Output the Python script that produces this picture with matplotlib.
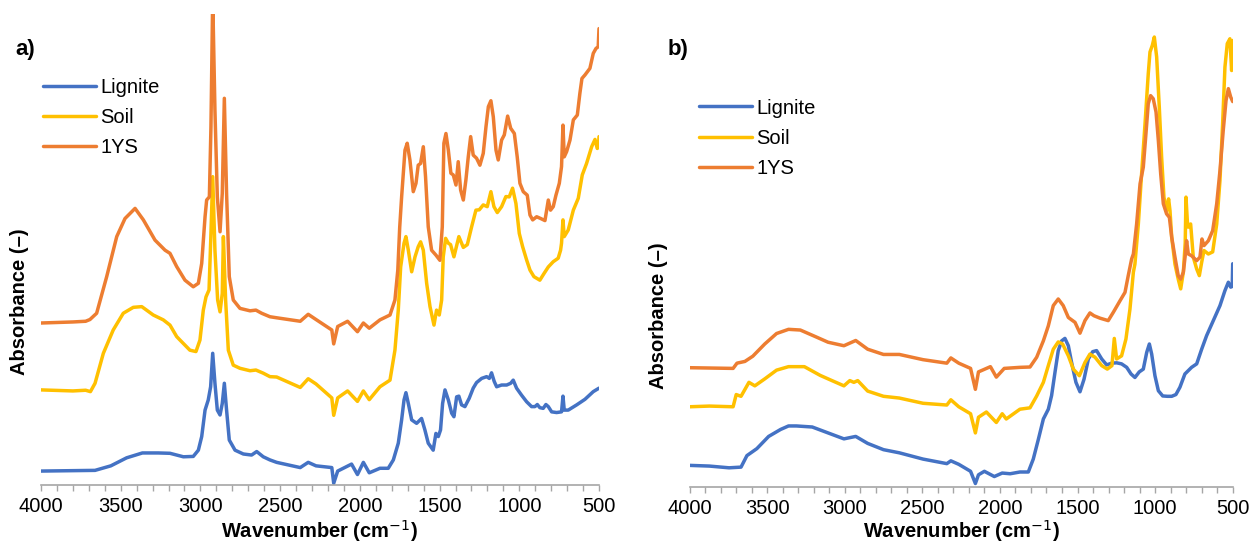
import matplotlib
matplotlib.use("Agg")
import matplotlib.pyplot as plt
from matplotlib.ticker import MultipleLocator

plt.rcParams['font.family'] = ['Liberation Sans', 'DejaVu Sans']

# (wavenumber cm-1, absorbance a.u.) read from the reference
# ---------------- Panel a) ----------------
a_lignite = [(4000, 0.040), (3661, 0.042), (3562, 0.055), (3463, 0.078), (3364, 0.092), (3265, 0.092),
             (3191, 0.091), (3107, 0.081), (3045, 0.082), (3013, 0.100), (2992, 0.139), (2971, 0.215),
             (2951, 0.244), (2936, 0.282), (2923, 0.378), (2909, 0.292), (2894, 0.215), (2877, 0.201),
             (2863, 0.234), (2850, 0.292), (2836, 0.215), (2819, 0.129), (2783, 0.100), (2731, 0.089),
             (2679, 0.086), (2647, 0.096), (2606, 0.081), (2564, 0.072), (2522, 0.065), (2374, 0.050),
             (2324, 0.065), (2275, 0.055), (2176, 0.050), (2164, 0.005), (2139, 0.040), (2052, 0.060),
             (2015, 0.030), (1978, 0.065), (1941, 0.035), (1874, 0.048), (1822, 0.048), (1790, 0.072),
             (1759, 0.120), (1738, 0.187), (1723, 0.244), (1711, 0.265), (1696, 0.234), (1675, 0.187),
             (1644, 0.177), (1613, 0.191), (1592, 0.158), (1571, 0.120), (1540, 0.100), (1523, 0.148),
             (1508, 0.139), (1494, 0.158), (1481, 0.234), (1466, 0.273), (1445, 0.244), (1424, 0.206),
             (1410, 0.196), (1393, 0.253), (1379, 0.255), (1362, 0.230), (1341, 0.225), (1314, 0.249),
             (1289, 0.278), (1268, 0.294), (1236, 0.306), (1205, 0.311), (1188, 0.306), (1174, 0.322),
             (1157, 0.297), (1142, 0.282), (1111, 0.287), (1079, 0.287), (1054, 0.292), (1038, 0.301),
             (1017, 0.278), (986, 0.258), (954, 0.239), (923, 0.225), (902, 0.225), (887, 0.231),
             (871, 0.222), (850, 0.220), (833, 0.231), (818, 0.225), (797, 0.210), (766, 0.208),
             (735, 0.210), (726, 0.255), (718, 0.215), (693, 0.215), (640, 0.230), (588, 0.246),
             (536, 0.268), (500, 0.278)]

a_soil = [(4000, 0.273), (3800, 0.270), (3720, 0.272), (3690, 0.268), (3661, 0.292), (3609, 0.378),
          (3547, 0.445), (3484, 0.493), (3421, 0.510), (3368, 0.512), (3296, 0.488), (3233, 0.474),
          (3191, 0.459), (3149, 0.426), (3128, 0.416), (3066, 0.387), (3028, 0.383), (3003, 0.416),
          (2982, 0.502), (2965, 0.540), (2946, 0.560), (2936, 0.694), (2923, 0.885), (2909, 0.674),
          (2892, 0.531), (2877, 0.497), (2863, 0.550), (2856, 0.713), (2842, 0.531), (2825, 0.387),
          (2794, 0.344), (2752, 0.335), (2689, 0.328), (2652, 0.330), (2606, 0.321), (2564, 0.311),
          (2522, 0.310), (2374, 0.280), (2324, 0.305), (2275, 0.290), (2176, 0.250), (2164, 0.200),
          (2139, 0.250), (2077, 0.270), (2015, 0.240), (1978, 0.270), (1941, 0.245), (1874, 0.282),
          (1811, 0.301), (1780, 0.387), (1759, 0.502), (1744, 0.626), (1723, 0.694), (1711, 0.713),
          (1696, 0.674), (1675, 0.612), (1654, 0.655), (1634, 0.684), (1619, 0.698), (1602, 0.674),
          (1581, 0.579), (1560, 0.512), (1535, 0.459), (1519, 0.502), (1502, 0.488), (1487, 0.531),
          (1477, 0.655), (1462, 0.708), (1445, 0.694), (1431, 0.690), (1410, 0.655), (1379, 0.713),
          (1351, 0.682), (1326, 0.690), (1299, 0.741), (1272, 0.789), (1251, 0.790), (1226, 0.804),
          (1201, 0.799), (1178, 0.842), (1159, 0.799), (1138, 0.782), (1111, 0.799), (1084, 0.828),
          (1063, 0.827), (1042, 0.852), (1021, 0.808), (1000, 0.722), (979, 0.684), (954, 0.646),
          (933, 0.617), (908, 0.598), (871, 0.588), (845, 0.607), (818, 0.626), (787, 0.641),
          (756, 0.651), (741, 0.674), (735, 0.694), (726, 0.761), (718, 0.713), (693, 0.732),
          (661, 0.789), (630, 0.823), (605, 0.890), (578, 0.923), (546, 0.971), (525, 0.992),
          (511, 0.966), (503, 0.970), (500, 1.000)]

a_1ys = [(4000, 0.465), (3800, 0.468), (3720, 0.470), (3693, 0.475), (3651, 0.493), (3588, 0.598),
         (3525, 0.713), (3473, 0.765), (3410, 0.794), (3358, 0.761), (3285, 0.703), (3222, 0.674),
         (3191, 0.665), (3149, 0.627), (3097, 0.588), (3045, 0.569), (3013, 0.579), (2992, 0.636),
         (2971, 0.770), (2961, 0.818), (2944, 0.827), (2934, 1.028), (2923, 1.400), (2909, 1.076),
         (2894, 0.827), (2877, 0.727), (2863, 0.837), (2850, 1.110), (2836, 0.837), (2819, 0.598),
         (2794, 0.531), (2752, 0.507), (2689, 0.500), (2652, 0.502), (2616, 0.493), (2564, 0.483),
         (2522, 0.480), (2374, 0.470), (2324, 0.490), (2275, 0.475), (2176, 0.445), (2164, 0.405),
         (2139, 0.455), (2077, 0.470), (2015, 0.440), (1978, 0.465), (1941, 0.450), (1874, 0.474),
         (1811, 0.488), (1780, 0.531), (1762, 0.617), (1750, 0.740), (1738, 0.827), (1717, 0.961),
         (1703, 0.981), (1686, 0.933), (1665, 0.842), (1648, 0.866), (1634, 0.918), (1619, 0.923),
         (1602, 0.971), (1588, 0.885), (1571, 0.741), (1550, 0.674), (1523, 0.660), (1498, 0.645),
         (1483, 0.741), (1473, 0.981), (1460, 1.009), (1445, 0.961), (1429, 0.895), (1414, 0.890),
         (1397, 0.861), (1383, 0.928), (1368, 0.847), (1351, 0.818), (1335, 0.875), (1320, 0.942),
         (1305, 1.000), (1289, 0.947), (1268, 0.938), (1247, 0.918), (1226, 0.952), (1209, 1.028),
         (1194, 1.086), (1178, 1.103), (1163, 1.057), (1146, 0.961), (1132, 0.933), (1111, 0.990),
         (1094, 1.005), (1073, 1.059), (1054, 1.024), (1031, 1.009), (1013, 0.942), (996, 0.866),
         (975, 0.842), (950, 0.832), (933, 0.775), (916, 0.761), (891, 0.770), (866, 0.765),
         (839, 0.759), (818, 0.818), (804, 0.789), (787, 0.799), (770, 0.832), (749, 0.866),
         (735, 0.914), (726, 1.033), (718, 0.942), (703, 0.957), (682, 0.990), (661, 1.048),
         (636, 1.062), (620, 1.124), (607, 1.167), (588, 1.177), (557, 1.196), (536, 1.239),
         (519, 1.253), (505, 1.258), (500, 1.310)]

# ---------------- Panel b) ----------------
b_lignite = [(4000, 0.062), (3872, 0.060), (3745, 0.055), (3668, 0.057), (3630, 0.090), (3566, 0.110),
             (3490, 0.145), (3413, 0.165), (3362, 0.175), (3311, 0.175), (3209, 0.172), (3107, 0.155),
             (3005, 0.138), (2929, 0.145), (2852, 0.125), (2750, 0.107), (2648, 0.098), (2495, 0.080),
             (2342, 0.067), (2316, 0.075), (2265, 0.065), (2189, 0.045), (2158, 0.010), (2138, 0.035),
             (2100, 0.045), (2036, 0.030), (1985, 0.040), (1934, 0.038), (1871, 0.043), (1817, 0.043),
             (1785, 0.080), (1752, 0.137), (1720, 0.195), (1688, 0.223), (1667, 0.262), (1645, 0.329),
             (1624, 0.391), (1602, 0.419), (1581, 0.426), (1559, 0.405), (1538, 0.357), (1510, 0.300),
             (1484, 0.273), (1458, 0.309), (1430, 0.367), (1402, 0.388), (1377, 0.391), (1344, 0.367),
             (1312, 0.350), (1280, 0.355), (1248, 0.356), (1216, 0.353), (1183, 0.343), (1155, 0.324),
             (1130, 0.314), (1102, 0.330), (1076, 0.338), (1054, 0.386), (1037, 0.410), (1022, 0.381),
             (1001, 0.319), (979, 0.276), (951, 0.261), (921, 0.260), (893, 0.260), (866, 0.265),
             (840, 0.286), (808, 0.324), (765, 0.343), (732, 0.353), (700, 0.395), (668, 0.434),
             (625, 0.477), (582, 0.520), (550, 0.563), (528, 0.587), (513, 0.573), (503, 0.575),
             (500, 0.640)]

b_soil = [(4000, 0.230), (3872, 0.232), (3719, 0.230), (3699, 0.265), (3668, 0.260), (3617, 0.300),
          (3579, 0.290), (3515, 0.310), (3439, 0.335), (3362, 0.345), (3260, 0.345), (3158, 0.320),
          (3082, 0.305), (3005, 0.290), (2967, 0.305), (2941, 0.300), (2916, 0.305), (2852, 0.275),
          (2750, 0.260), (2648, 0.255), (2495, 0.240), (2342, 0.235), (2316, 0.250), (2265, 0.230),
          (2189, 0.210), (2158, 0.155), (2138, 0.200), (2087, 0.215), (2023, 0.185), (1985, 0.210),
          (1959, 0.195), (1871, 0.223), (1806, 0.227), (1763, 0.261), (1720, 0.300), (1688, 0.348),
          (1656, 0.395), (1624, 0.416), (1596, 0.410), (1559, 0.376), (1527, 0.338), (1488, 0.319),
          (1452, 0.357), (1420, 0.381), (1387, 0.372), (1344, 0.348), (1308, 0.338), (1278, 0.348),
          (1263, 0.426), (1248, 0.367), (1216, 0.376), (1188, 0.424), (1162, 0.510), (1140, 0.616),
          (1130, 0.639), (1108, 0.754), (1087, 0.898), (1065, 1.041), (1044, 1.185), (1033, 1.247),
          (1018, 1.266), (1005, 1.290), (990, 1.233), (973, 1.089), (958, 0.946), (943, 0.831),
          (926, 0.792), (913, 0.826), (904, 0.792), (893, 0.716), (872, 0.639), (851, 0.596),
          (835, 0.568), (818, 0.616), (806, 0.700), (801, 0.831), (792, 0.760), (786, 0.745),
          (771, 0.754), (754, 0.659), (732, 0.625), (715, 0.606), (700, 0.644), (685, 0.678),
          (657, 0.668), (629, 0.674), (603, 0.754), (582, 0.879), (565, 1.041), (550, 1.204),
          (535, 1.271), (518, 1.285), (507, 1.194), (500, 1.280)]

b_1ys = [(4000, 0.342), (3719, 0.340), (3694, 0.355), (3643, 0.360), (3592, 0.375), (3515, 0.410),
         (3439, 0.440), (3362, 0.452), (3286, 0.450), (3183, 0.430), (3107, 0.415), (3005, 0.405),
         (2929, 0.420), (2852, 0.395), (2750, 0.380), (2648, 0.380), (2495, 0.365), (2342, 0.355),
         (2316, 0.370), (2265, 0.355), (2189, 0.340), (2158, 0.280), (2138, 0.330), (2061, 0.345),
         (2023, 0.315), (1972, 0.340), (1871, 0.343), (1806, 0.344), (1763, 0.372), (1720, 0.419),
         (1688, 0.462), (1656, 0.520), (1624, 0.539), (1592, 0.520), (1559, 0.486), (1516, 0.472),
         (1484, 0.441), (1452, 0.477), (1420, 0.499), (1394, 0.491), (1355, 0.484), (1302, 0.477),
         (1269, 0.501), (1226, 0.534), (1194, 0.558), (1173, 0.606), (1151, 0.654), (1140, 0.668),
         (1119, 0.754), (1097, 0.869), (1076, 0.917), (1059, 1.013), (1044, 1.099), (1029, 1.122),
         (1012, 1.113), (994, 1.075), (979, 0.993), (964, 0.898), (947, 0.812), (926, 0.783),
         (908, 0.773), (893, 0.716), (872, 0.659), (851, 0.606), (835, 0.596), (818, 0.616),
         (807, 0.659), (797, 0.706), (786, 0.668), (765, 0.663), (732, 0.649), (711, 0.659),
         (698, 0.711), (685, 0.692), (657, 0.706), (629, 0.735), (603, 0.812), (582, 0.907),
         (561, 1.022), (543, 1.108), (528, 1.142), (513, 1.118), (500, 1.105)]

series_names = ['Lignite', 'Soil', '1YS']
colors = ['#4472C4', '#FFC000', '#ED7D31']
x_ticks = [4000, 3500, 3000, 2500, 2000, 1500, 1000, 500]
panel_labels = ['a)', 'b)']

W, H = 1251, 546
fig = plt.figure(figsize=(W / 100, H / 100), dpi=100)


def px_axes(left, right, top, bottom):
    return fig.add_axes([left / W, 1 - bottom / H, (right - left) / W, (bottom - top) / H])


axa = px_axes(41, 599, 14, 485)
axb = px_axes(689.5, 1232.7, 14, 487)

panels = [
    (axa, [a_lignite, a_soil, a_1ys], 1.352, (19.5, 302), (43, 78), (15, 49)),
    (axb, [b_lignite, b_soil, b_1ys], 1.356, (659, 316), (699, 98.5), (668, 50)),
]

grey = '#a6a6a6'
for (ax, data, ytop, ylab_xy, leg_xy, lab_xy), plab in zip(panels, panel_labels):
    for series, name, c in zip(data, series_names, colors):
        w, a = zip(*series)
        ax.plot(w, a, color=c, lw=2.5, label=name, solid_joinstyle='round',
                solid_capstyle='round')
    ax.set_xlim(4000, 500)
    ax.set_ylim(0, ytop)
    ax.set_xticks(x_ticks)
    ax.xaxis.set_minor_locator(MultipleLocator(100))
    ax.tick_params(axis='x', which='both', direction='out', length=4, width=1,
                   color=grey, labelsize=14.5, pad=5)
    ax.tick_params(axis='y', left=False, labelleft=False)
    for s in ['top', 'right', 'left']:
        ax.spines[s].set_visible(False)
    ax.spines['bottom'].set_color(grey)
    ax.spines['bottom'].set_linewidth(1.2)
    ax.set_xlabel('Wavenumber (cm$^{\u22121}$)', fontsize=14.5, fontweight='bold')
    ax.xaxis.set_label_coords(0.5, 1 - 544 / H, transform=fig.transFigure)
    ax.xaxis.label.set_va('bottom')
    ax.set_ylabel('Absorbance (\u2013)', fontsize=14.5, fontweight='bold')
    ax.yaxis.set_label_coords(ylab_xy[0] / W, 1 - ylab_xy[1] / H, transform=fig.transFigure)
    ax.yaxis.label.set_va('center')
    ax.legend(loc='upper left', bbox_to_anchor=(leg_xy[0] / W, 1 - leg_xy[1] / H),
              bbox_transform=fig.transFigure, frameon=False, fontsize=14.5,
              handlelength=2.65, handletextpad=0.2, labelspacing=0.55,
              borderaxespad=0, borderpad=0)
    fig.text(lab_xy[0] / W, 1 - lab_xy[1] / H, plab, fontsize=16, fontweight='bold',
             va='center', ha='left')

# x-label centred under each axis
for ax in (axa, axb):
    bb = ax.get_position()
    ax.xaxis.set_label_coords((bb.x0 + bb.x1) / 2, 1 - 544 / H, transform=fig.transFigure)

fig.savefig('out.png', dpi=100)
